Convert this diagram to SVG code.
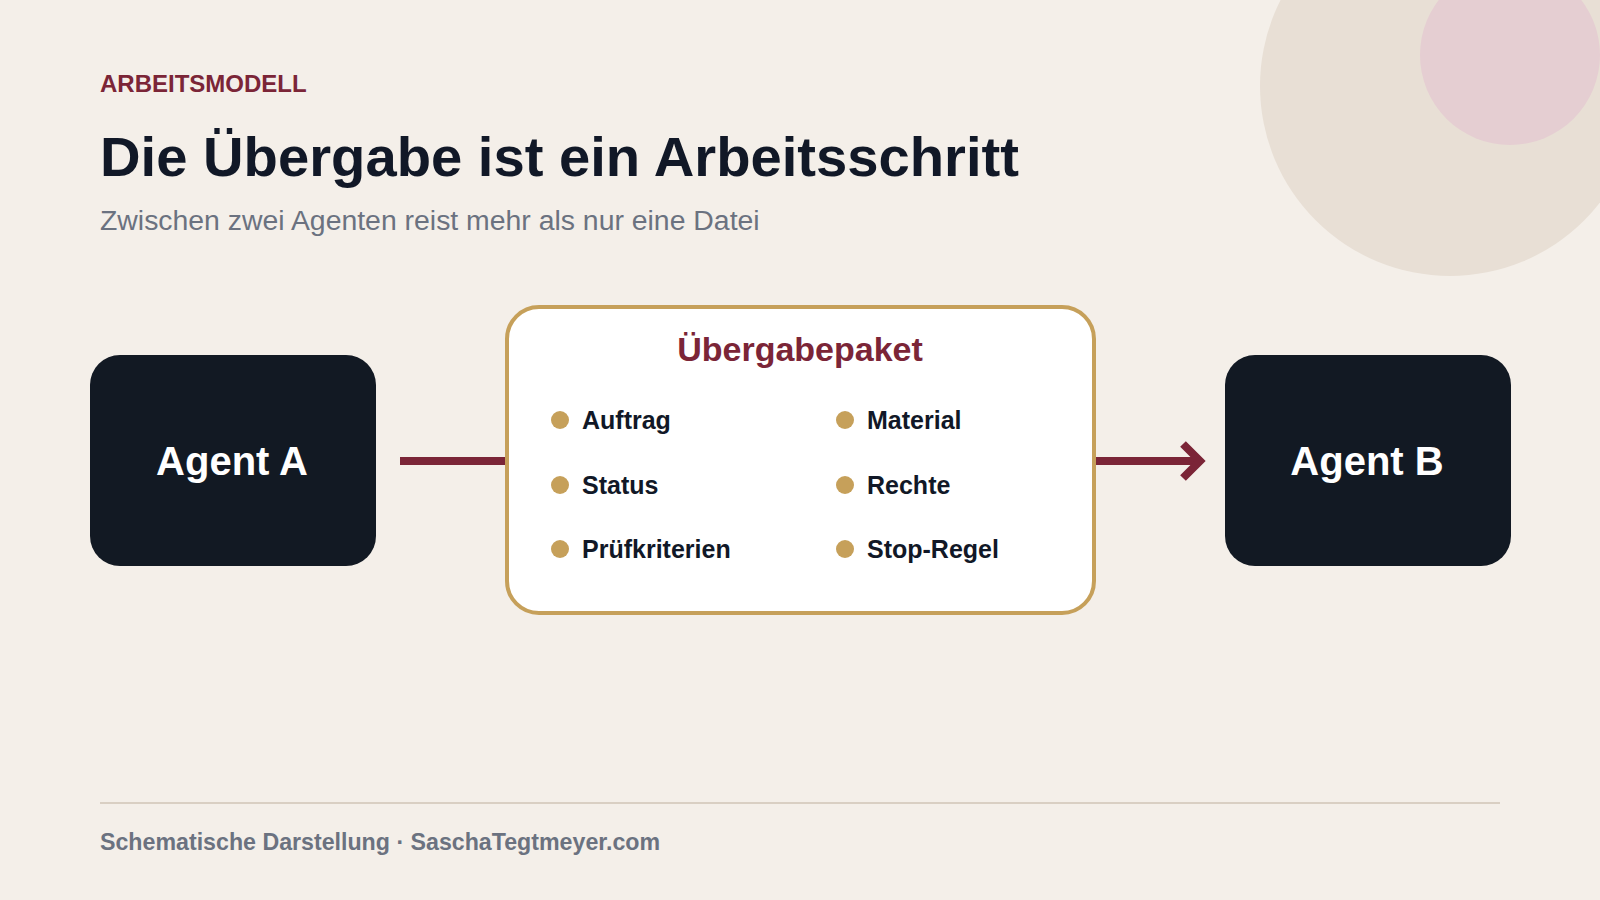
<svg xmlns="http://www.w3.org/2000/svg" width="1600" height="900" viewBox="0 0 1600 900">
<style>
.sans{font-family:"Liberation Sans",Arial,sans-serif}
.agent{fill:#121923}
.agentText{font-family:"Liberation Sans",Arial,sans-serif;font-weight:700;font-size:40px;fill:#ffffff;text-anchor:middle}
.item{font-family:"Liberation Sans",Arial,sans-serif;font-weight:700;font-size:25px;fill:#111827}
.dot{fill:#c6a05a}
.conn{stroke:#7b2537;stroke-width:8;fill:none}
</style>
<rect x="0" y="0" width="1600" height="900" fill="#f4efe9"/>
<circle cx="1450" cy="86" r="190" fill="#e8dfd5"/>
<circle cx="1510" cy="55" r="90" fill="#e5ced2"/>
<text x="100" y="92" class="sans" font-size="24" font-weight="700" fill="#7b2537">ARBEITSMODELL</text>
<text x="100" y="176" class="sans" font-size="56.2" font-weight="700" fill="#111827">Die Übergabe ist ein Arbeitsschritt</text>
<text x="100" y="230" class="sans" font-size="28.4" fill="#6b7280">Zwischen zwei Agenten reist mehr als nur eine Datei</text>
<g id="connectors">
<line class="conn" x1="400" y1="461" x2="510" y2="461"/>
<line class="conn" x1="1090" y1="461" x2="1199" y2="461"/>
<polyline class="conn" points="1183,444 1200,461 1183,478" stroke-linejoin="miter"/>
</g>
<g id="agentA">
<rect class="agent" x="90" y="355" width="286" height="211" rx="30"/>
<text class="agentText" x="232" y="475">Agent A</text>
</g>
<g id="paket">
<rect x="507" y="307" width="587" height="306" rx="32" fill="#ffffff" stroke="#c6a05a" stroke-width="4"/>
<text x="800" y="361" class="sans" font-size="34" font-weight="700" fill="#7b2537" text-anchor="middle">Übergabepaket</text>
<circle class="dot" cx="560" cy="420" r="9"/>
<text class="item" x="582" y="429">Auftrag</text>
<circle class="dot" cx="560" cy="485" r="9"/>
<text class="item" x="582" y="494">Status</text>
<circle class="dot" cx="560" cy="549" r="9"/>
<text class="item" x="582" y="558">Prüfkriterien</text>
<circle class="dot" cx="845" cy="420" r="9"/>
<text class="item" x="867" y="429">Material</text>
<circle class="dot" cx="845" cy="485" r="9"/>
<text class="item" x="867" y="494">Rechte</text>
<circle class="dot" cx="845" cy="549" r="9"/>
<text class="item" x="867" y="558">Stop-Regel</text>
</g>
<g id="agentB">
<rect class="agent" x="1225" y="355" width="286" height="211" rx="30"/>
<text class="agentText" x="1367" y="475">Agent B</text>
</g>
<line x1="100" y1="803" x2="1500" y2="803" stroke="#d9cfc3" stroke-width="2"/>
<text x="100" y="850" class="sans" font-size="23.2" font-weight="700" fill="#6b7280">Schematische Darstellung · SaschaTegtmeyer.com</text>
</svg>
